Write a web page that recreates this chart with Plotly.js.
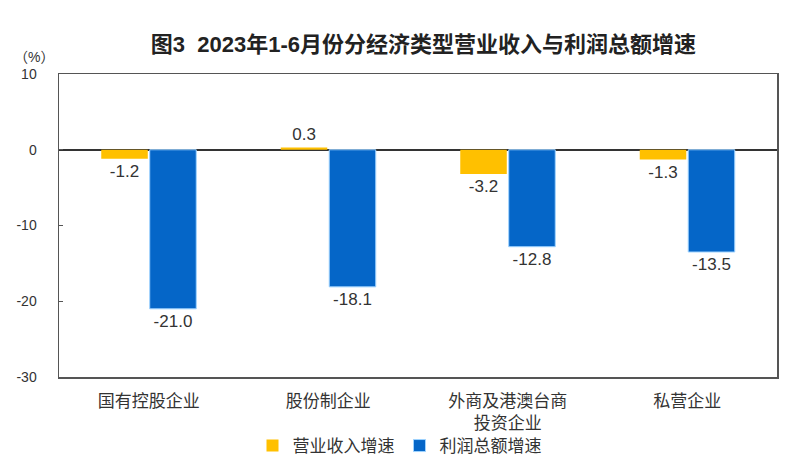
<!DOCTYPE html>
<html><head><meta charset="utf-8">
<script src="https://cdn.plot.ly/plotly-3.0.1.min.js"></script>
<style>html,body{margin:0;padding:0;background:#fff;}</style>
</head><body>
<div id="chart" style="width:799px;height:467px;"></div>
<script>
const categories = ['国有控股企业', '股份制企业', '外商及港澳台商<br>投资企业', '私营企业'];
const revenueGrowth = [-1.2, 0.3, -3.2, -1.3];
const profitGrowth = [-21.0, -18.1, -12.8, -13.5];
const seriesNames = ['营业收入增速', '利润总额增速'];
const yTicks = [10, 0, -10, -20, -30];

const fontCJK = '"Liberation Sans", "Noto Sans CJK SC", sans-serif';
const fmt = v => v.toFixed(1);

const traces = [
  {
    type: 'bar', name: seriesNames[0], x: categories, y: revenueGrowth,
    marker: {color: '#FFC000'},
    text: revenueGrowth.map(fmt), textposition: 'outside', cliponaxis: false,
    textfont: {size: 17, color: '#333', family: fontCJK}
  },
  {
    type: 'bar', name: seriesNames[1], x: categories, y: profitGrowth,
    marker: {color: '#0566C8', line: {color: '#9fd3ff', width: 1}},
    text: profitGrowth.map(fmt), textposition: 'outside', cliponaxis: false,
    textfont: {size: 17, color: '#333', family: fontCJK}
  }
];

const layout = {
  width: 799, height: 467,
  margin: {l: 59, r: 22, t: 74, b: 90, autoexpand: false},
  paper_bgcolor: '#fff', plot_bgcolor: '#fff',
  font: {family: fontCJK, color: '#333', size: 13},
  title: {
    text: '<b>图3  2023年1-6月份分经济类型营业收入与利润总额增速</b>',
    x: 0.53, xanchor: 'center', y: 0.905, yanchor: 'middle',
    font: {size: 22, color: '#222', family: fontCJK}
  },
  barmode: 'group', bargap: 0.46, bargroupgap: 0.04,
  xaxis: {
    showline: true, linecolor: '#555', linewidth: 1.5, mirror: true,
    ticks: '', tickfont: {size: 17, color: '#333', family: fontCJK},
    ticklabelstandoff: 8,
    showgrid: false, zeroline: false, fixedrange: true
  },
  yaxis: {
    range: [-30, 10], tickvals: yTicks, ticktext: yTicks.map(String),
    showline: true, linecolor: '#555', linewidth: 1.5, mirror: true,
    ticks: 'inside', ticklen: 4, tickcolor: '#555',
    showgrid: false, zeroline: true, zerolinecolor: '#333', zerolinewidth: 1.5,
    tickfont: {size: 14, color: '#333'}, ticklabelstandoff: 18, fixedrange: true
  },
  legend: {
    orientation: 'h', xref: 'container', yref: 'container',
    x: 0.5, xanchor: 'center', y: 1 - 446/467, yanchor: 'middle',
    bgcolor: 'rgba(0,0,0,0)',
    font: {size: 17, color: '#333', family: fontCJK}, itemwidth: 30,
    traceorder: 'normal'
  },
  annotations: [{
    text: '（%）', xref: 'paper', yref: 'paper', x: -0.035, y: 1.055,
    xanchor: 'center', yanchor: 'middle', showarrow: false,
    font: {size: 14, color: '#333'}
  }],
  showlegend: true
};

Plotly.newPlot('chart', traces, layout, {displayModeBar: false, staticPlot: true});
</script>
</body></html>
